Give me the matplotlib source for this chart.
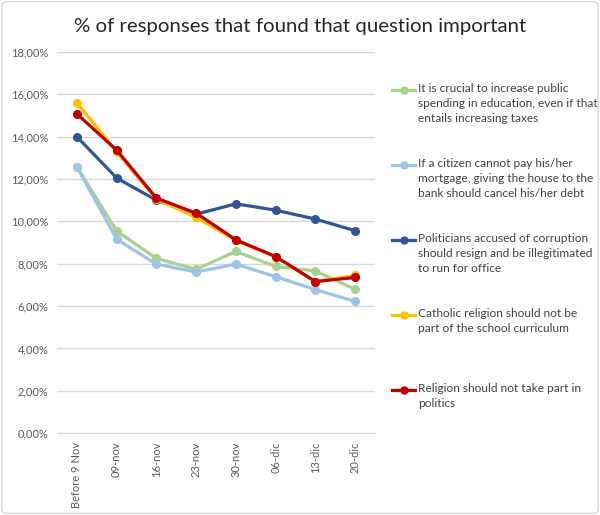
import matplotlib
matplotlib.use("Agg")
import matplotlib.pyplot as plt
from matplotlib.lines import Line2D
from matplotlib.patches import FancyBboxPatch
from matplotlib.ticker import FuncFormatter

plt.rcParams['font.family'] = ['Lato', 'DejaVu Sans']

weeks = ["Before 9 Nov", "09-nov", "16-nov", "23-nov", "30-nov", "06-dic", "13-dic", "20-dic"]

education = [12.58, 9.55, 8.25, 7.74, 8.58, 7.87, 7.66, 6.79]
mortgage = [12.58, 9.16, 7.98, 7.61, 7.98, 7.39, 6.78, 6.22]
corruption = [14.0, 12.05, 11.0, 10.34, 10.83, 10.53, 10.11, 9.56]
catholic = [15.60, 13.29, 11.05, 10.19, 9.10, 8.33, 7.15, 7.45]
religion = [15.08, 13.37, 11.1, 10.39, 9.13, 8.34, 7.16, 7.35]

labels = [
    "It is crucial to increase public\nspending in education, even if that\nentails increasing taxes",
    "If a citizen cannot pay his/her\nmortgage, giving the house to the\nbank should cancel his/her debt",
    "Politicians accused of corruption\nshould resign and be illegitimated\nto run for office",
    "Catholic religion should not be\npart of the school curriculum",
    "Religion should not take part in\npolitics",
]
colors = ["#A9D18E", "#9DC3E6", "#2F5597", "#FFC000", "#C00000"]
series = [education, mortgage, corruption, catholic, religion]

fig = plt.figure(figsize=(6.0, 5.15), dpi=100)
ax = fig.add_axes([0.095, 0.159, 0.53, 0.74])

x = range(len(weeks))
for vals, col in zip(series, colors):
    ax.plot(x, vals, color=col, lw=2.3, marker="o", ms=5.5, zorder=3)

ax.set_xlim(-0.5, len(weeks) - 0.5)
ax.set_ylim(0, 18)
ax.set_yticks(range(0, 19, 2))
ax.yaxis.set_major_formatter(FuncFormatter(lambda v, p: f"{v:.2f}%".replace(".", ",")))
ax.set_xticks(list(x))
ax.set_xticklabels(weeks, rotation=90, va="top", ha="center")
ax.tick_params(axis="both", length=0, labelsize=8, colors="#595959", pad=6)
ax.grid(axis="y", color="#D9D9D9", lw=1)
ax.set_axisbelow(True)
for s in ax.spines.values():
    s.set_visible(False)
ax.spines["bottom"].set_visible(True)
ax.spines["bottom"].set_color("#D9D9D9")

fig.text(0.5, 0.948, "% of responses that found that question important",
         ha="center", va="center", fontsize=14.7, color="#262626")

# legend drawn by hand so each entry keeps the same slot height
top_y = 1 - 90 / 515
step = 75 / 515
for i, (lab, col) in enumerate(zip(labels, colors)):
    y = top_y - i * step
    fig.add_artist(Line2D([392 / 600, 403.5 / 600, 415 / 600], [y, y, y], color=col, lw=2.3,
                          marker="o", markevery=[1], ms=5, transform=fig.transFigure))
    fig.text(418 / 600, y + 0.013, lab, ha="left", va="top", fontsize=8.6,
             color="#404040", linespacing=1.4)

fig.add_artist(FancyBboxPatch((0.003, 0.003), 0.994, 0.994, boxstyle="round,pad=0,rounding_size=0.01",
                              transform=fig.transFigure, fill=False, ec="#D9D9D9", lw=1))

fig.savefig("out.png", dpi=100)
